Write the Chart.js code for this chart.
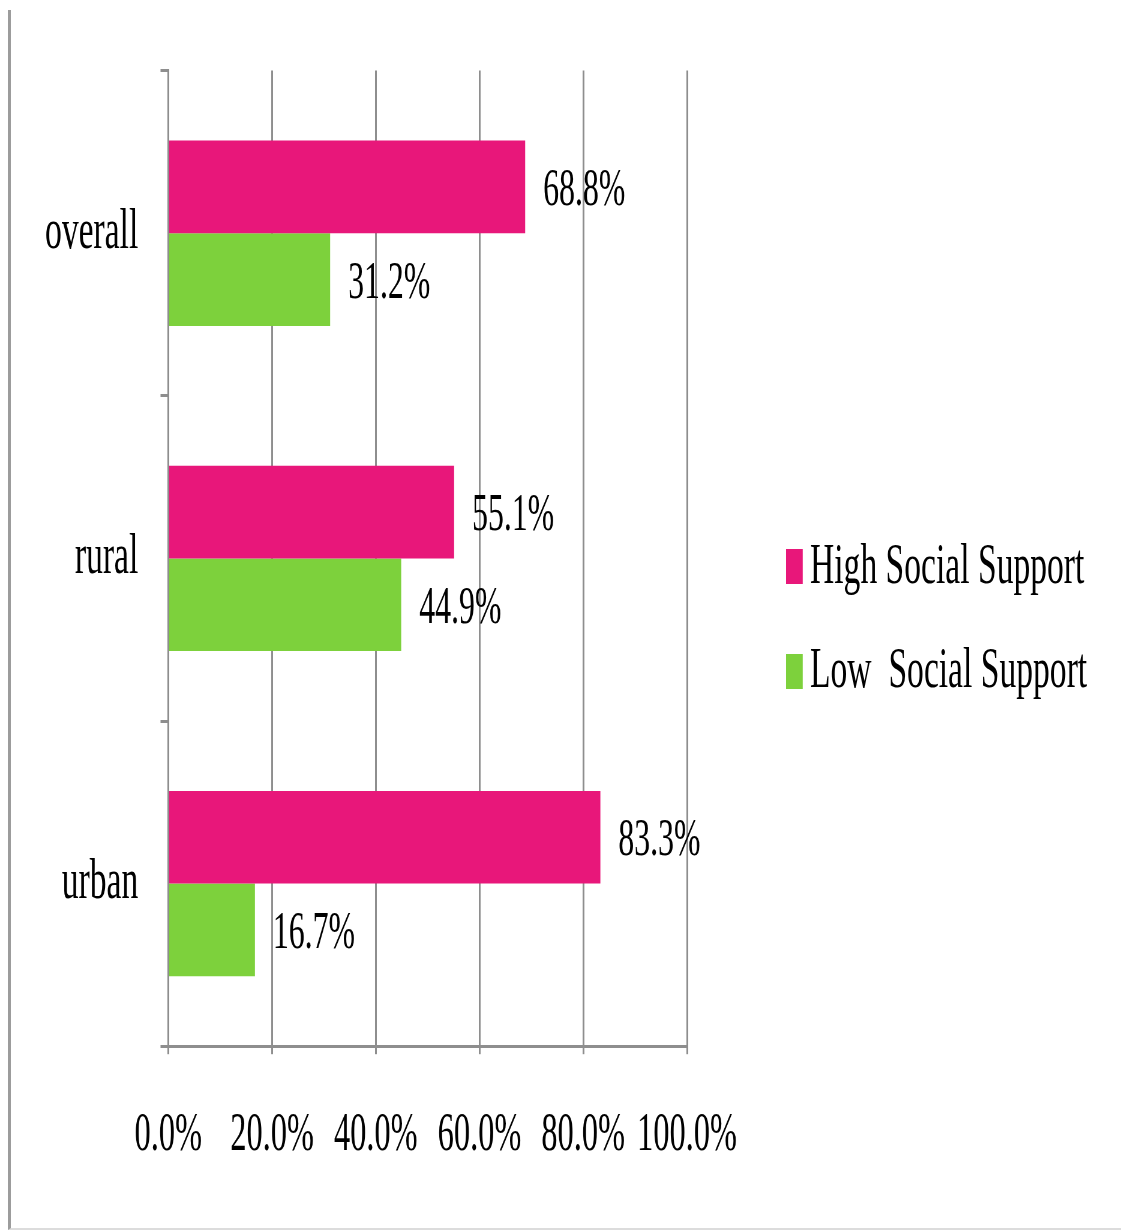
<!DOCTYPE html>
<html>
<head>
<meta charset="utf-8">
<title>Social support by residence</title>
<script src="https://cdn.jsdelivr.net/npm/chart.js@4"></script>
<style>
    html, body { margin: 0; padding: 0; background: #fff; overflow: hidden; }
    #frame {
        position: absolute; left: 8px; top: 10px; width: 1113px; height: 1220px;
        border-left: 3px solid #9c9c9c; border-bottom: 2px solid #dcdcdc; box-sizing: border-box;
    }
    /* the figure uses a narrow serif face, so the whole drawing is squeezed horizontally */
    #squeeze {
        position: absolute; left: 0; top: 0; width: 1868px; height: 1231px;
        transform: scaleX(0.6); transform-origin: 0 0;
    }
    #chart { position: absolute; left: 0; top: 0; }
    .legend-item {
        position: absolute; left: 1310px;
        font-family: 'Liberation Serif', serif; font-size: 56px; line-height: 56px;
        color: #000; white-space: pre;
    }
    .legend-box { position: absolute; left: 0; width: 28px; height: 35px; }
    .legend-text { position: absolute; left: 40px; top: 0; }
</style>
</head>
<body>
<div id="frame"></div>
<div id="squeeze">
    <canvas id="chart" width="1868" height="1231" style="width:1868px;height:1231px;"></canvas>
    <div id="legend"></div>
</div>
<script>
// ── data ──
const categories = ['overall', 'rural', 'urban'];
const highSupport = [68.8, 55.1, 83.3];
const lowSupport = [31.2, 44.9, 16.7];
const seriesLabels = ['High Social Support', 'Low  Social Support'];
const seriesColors = ['#e8177a', '#7dd13c'];

const FONT = "'Liberation Serif', serif";
const GRID = '#8e8e8e';

// value labels to the right of each bar
const valueLabels = {
    id: 'valueLabels',
    afterDatasetsDraw(chart) {
        const ctx = chart.ctx;
        ctx.save();
        ctx.font = '53px ' + FONT;
        ctx.fillStyle = '#000';
        ctx.textAlign = 'left';
        ctx.textBaseline = 'alphabetic';
        chart.data.datasets.forEach((ds, i) => {
            chart.getDatasetMeta(i).data.forEach((bar, j) => {
                ctx.fillText(ds.data[j].toFixed(1) + '%', bar.x + 30, bar.y + 18);
            });
        });
        ctx.restore();
    }
};

new Chart(document.getElementById('chart'), {
    type: 'bar',
    data: {
        labels: categories,
        datasets: [
            { label: seriesLabels[0], data: highSupport, backgroundColor: seriesColors[0] },
            { label: seriesLabels[1], data: lowSupport, backgroundColor: seriesColors[1] }
        ]
    },
    options: {
        indexAxis: 'y',
        responsive: false,
        animation: false,
        devicePixelRatio: 1,
        barPercentage: 1,
        categoryPercentage: 0.57,
        layout: { padding: { left: 38, right: 723, top: 70, bottom: 14 } },
        plugins: {
            legend: { display: false },
            tooltip: { enabled: false }
        },
        scales: {
            x: {
                min: 0,
                max: 100,
                ticks: {
                    stepSize: 20,
                    color: '#000',
                    padding: 49,
                    maxRotation: 0,
                    minRotation: 0,
                    autoSkip: false,
                    font: { family: FONT, size: 54 },
                    callback: v => v.toFixed(1) + '%'
                },
                grid: { color: GRID, lineWidth: 3, tickLength: 8 },
                border: { display: true, color: GRID, width: 3 }
            },
            y: {
                ticks: {
                    color: '#000',
                    padding: 37,
                    font: { family: FONT, size: 56 }
                },
                grid: { drawOnChartArea: false, color: GRID, lineWidth: 3, tickLength: 13 },
                border: { display: true, color: GRID, width: 3 }
            }
        }
    },
    plugins: [valueLabels]
});

// legend
const legendTops = [536, 640];
document.getElementById('legend').innerHTML = seriesLabels.map((label, i) => `
    <div class="legend-item" style="top:${legendTops[i]}px">
        <span class="legend-box" style="top:${13 + i}px;background:${seriesColors[i]}"></span>
        <span class="legend-text">${label}</span>
    </div>
`).join('');
</script>
</body>
</html>
